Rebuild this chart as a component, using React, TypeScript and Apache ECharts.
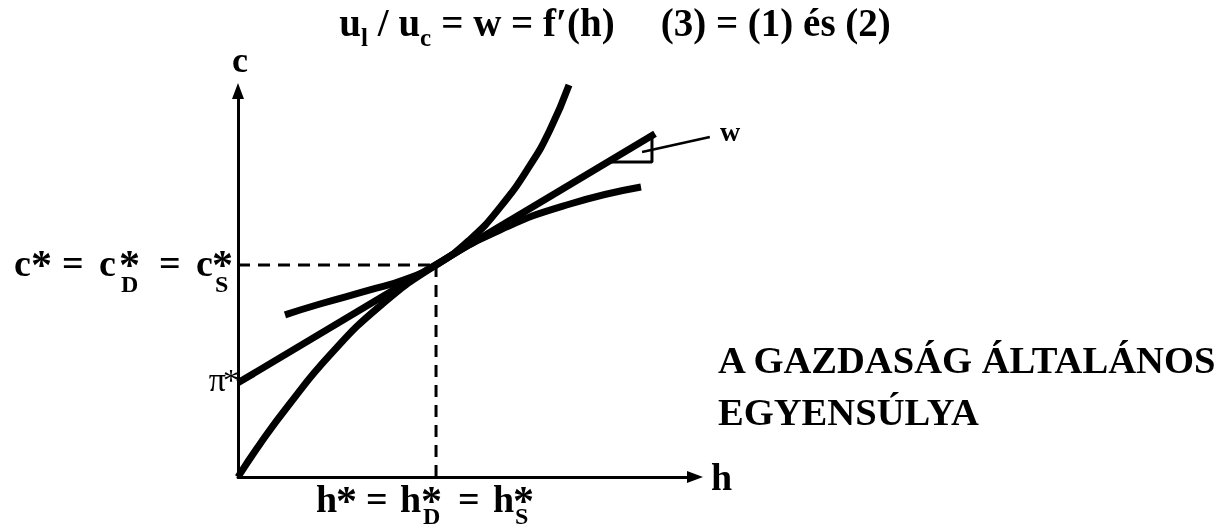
import React, { useEffect, useRef } from 'react';
import * as echarts from 'echarts';

// ---- data (h = labour on x axis, c = consumption on y axis) ----
const H_MAX = 12;
const C_MAX = 10;
const hStar = 5.2;
const cStar = 5.49;
const piStar = 2.44;
const budgetLine: [number, number][] = [[0, piStar], [10.95, 8.89]];
const productionCurve: [number, number][] = [
  [0, 0], [0.578, 0.855], [1.313, 1.839], [2.416, 3.161], [3.729, 4.43],
  [5.2, 5.49], [6.88, 6.399], [8.718, 7.073], [10.582, 7.513],
];
const indifferenceCurve: [number, number][] = [
  [1.234, 4.202], [2.153, 4.482], [3.466, 4.845], [4.385, 5.119], [5.2, 5.49],
  [6.092, 6.153], [6.88, 6.984], [7.667, 8.073], [8.193, 8.995], [8.692, 10.155],
];
const wageTriangle: [number, number][] = [[9.76, 8.16], [10.87, 8.16], [10.87, 8.81]];
const wageLeader: [number, number][] = [[10.61, 8.42], [12.39, 8.81]];

const titleParts = ['u', 'l', '/ u', 'c', '= w = f′(h)', '(3) = (1) és (2)'];
const sideTitle = ['A GAZDASÁG ÁLTALÁNOS', 'EGYENSÚLYA'];
const axisNames = { x: 'h', y: 'c' };

const SERIF = '"Liberation Serif", "Times New Roman", serif';

function txt(text: string, x: number, baseline: number, size: number, weight = 'bold', align = 'left') {
  return {
    type: 'text',
    x,
    y: baseline - 0.3375 * size,
    silent: true,
    style: {
      text,
      font: `${weight} ${size}px ${SERIF}`,
      fill: '#000',
      textAlign: align,
      textVerticalAlign: 'middle',
      align,
      verticalAlign: 'middle',
    },
  };
}

// a bold star set higher and a bit larger, as in the reference
function star(x: number, baseline: number) {
  return txt('*', x, baseline + 3, 42);
}

export default function App() {
  const ref = useRef<HTMLDivElement>(null);
  useEffect(() => {
    if (!ref.current) return;
    const chart = echarts.init(ref.current, undefined, { renderer: 'svg' });
    const black = '#000';
    const curve = (data: [number, number][], smooth: number | boolean = false) => ({
      type: 'line',
      data,
      showSymbol: false,
      smooth,
      clip: false,
      z: 5,
      lineStyle: { color: black, width: 7, cap: 'butt' },
    });
    const thin = (data: [number, number][], width: number, dashed = false, gi = 0) => ({
      type: 'line',
      data,
      xAxisIndex: gi,
      yAxisIndex: gi,
      showSymbol: false,
      clip: false,
      z: 3,
      lineStyle: { color: black, width, type: dashed ? [12, 8] : 'solid' },
    });
    const axisCommon = {
      type: 'value',
      min: 0,
      axisTick: { show: false },
      axisLabel: { show: false },
      splitLine: { show: false },
      axisLine: {
        show: true,
        symbol: ['none', 'triangle'],
        symbolSize: [12, 16],
        lineStyle: { color: black, width: 3 },
      },
    };
    const hidden = {
      type: 'value',
      min: 0,
      show: false,
    };
    const mainFont = { fontSize: 39, fontFamily: SERIF, fontWeight: 'bold', fill: black, verticalAlign: 'middle' };
    const subFont = { fontSize: 25, fontFamily: SERIF, fontWeight: 'bold', fill: black, verticalAlign: 'middle', padding: [30, 0, 0, 0] };

    chart.setOption({
      animation: false,
      grid: [
        { left: 238, top: 91, width: 457, height: 386 },
        // same scale, wider frame, for the pointer to the "w" label
        { left: 238, top: 91, width: (457 * 13) / 12, height: 386 },
      ],
      xAxis: [{ ...axisCommon, max: H_MAX }, { ...hidden, max: 13, gridIndex: 1 }],
      yAxis: [{ ...axisCommon, max: C_MAX }, { ...hidden, max: C_MAX, gridIndex: 1 }],
      series: [
        thin([[0, cStar], [hStar, cStar]], 3, true),
        thin([[hStar, 0], [hStar, cStar]], 3, true),
        curve(budgetLine),
        curve(productionCurve, 0.5),
        curve(indifferenceCurve, 0.5),
        thin(wageTriangle, 3),
        thin(wageLeader, 2.5, false, 1),
      ],
      graphic: [
        {
          type: 'text',
          x: 615,
          y: 22,
          silent: true,
          style: {
            text:
              `{m|${titleParts[0]}}{s|${titleParts[1]}}{mp|${titleParts[2]}}{s|${titleParts[3]}}` +
              `{mp|${titleParts[4]}}{mg|${titleParts[5]}}`,
            textAlign: 'center',
            textVerticalAlign: 'middle',
            align: 'center',
            verticalAlign: 'middle',
            rich: {
              m: mainFont,
              s: subFont,
              mp: { ...mainFont, padding: [0, 0, 0, 10] },
              mg: { ...mainFont, padding: [0, 0, 0, 46] },
            },
          },
        },
        txt(axisNames.y, 240, 72, 36, 'bold', 'center'),
        txt(axisNames.x, 711, 490, 38),
        txt('w', 720, 141, 28),
        txt('π', 226, 391, 34, 'normal', 'right'),
        txt('*', 223, 391, 32, 'normal'),
        // c* = cD* = cS*
        txt('c', 14, 276, 38),
        star(31, 276),
        txt('=', 62, 276, 38),
        txt('c', 99, 276, 38),
        star(119, 276),
        txt('D', 121, 292, 24),
        txt('=', 159, 276, 38),
        txt('c', 196, 276, 38),
        star(212, 276),
        txt('S', 215, 292, 24),
        // h* = hD* = hS*
        txt('h', 316, 512, 38),
        star(336, 512),
        txt('=', 366, 512, 38),
        txt('h', 400, 512, 38),
        star(421, 512),
        txt('D', 423, 524, 24),
        txt('=', 458, 512, 38),
        txt('h', 493, 512, 38),
        star(513, 512),
        txt('S', 515, 524, 24),
        txt(sideTitle[0], 718, 373, 38.6),
        txt(sideTitle[1], 718, 425, 38.6),
      ],
    });
    return () => chart.dispose();
  }, []);
  return <div ref={ref} style={{ position: 'fixed', left: 0, top: 0, width: 1221, height: 528 }} />;
}
